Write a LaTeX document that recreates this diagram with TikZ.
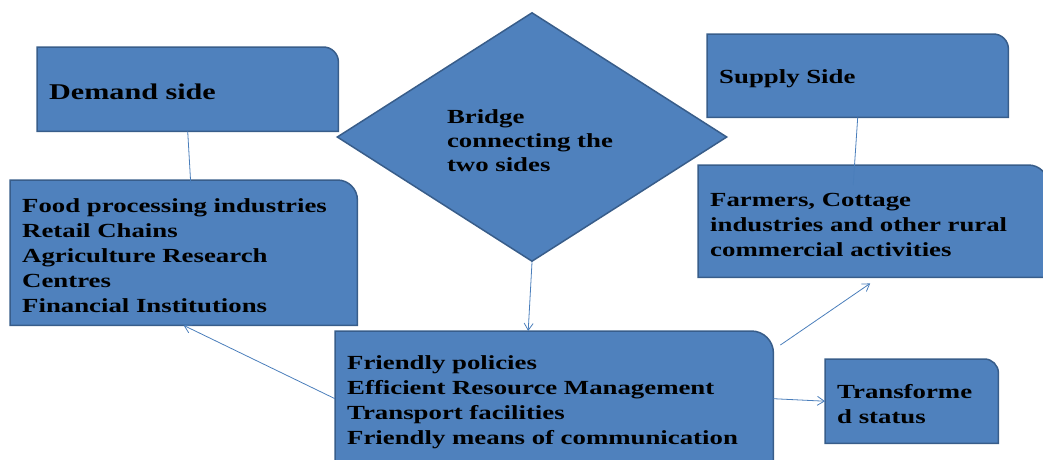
\documentclass[tikz,border=0pt]{standalone}
\usepackage{fontspec}
\setmainfont{Liberation Serif}[FakeStretch=1.34]
\usetikzlibrary{shapes.geometric,arrows.meta,backgrounds}

\definecolor{boxblue}{HTML}{4F81BD}
\definecolor{boxedge}{HTML}{385D8A}
\definecolor{linkblue}{HTML}{4A7EBB}

\begin{document}
\begin{tikzpicture} [
                x=1pt, y=-1pt,
                sidebox/.style={
                    rectangle,
                    anchor=north west,
                    inner xsep=12pt,
                    inner ysep=0pt,
                    align=left,
                    execute at begin node={\rule{0pt}{20.5pt}},
                    font=\bfseries\fontsize{20}{25}\selectfont
                },
                bridgenode/.style={
                    diamond,
                    fill=boxblue,
                    draw=boxedge,
                    line width=1.5pt,
                    minimum width=390pt,
                    minimum height=249pt,
                    inner sep=0pt,
                    text width=170pt,
                    align=left,
                    execute at begin node={\rule{0pt}{20.5pt}},
                    font=\bfseries\fontsize{20}{24}\selectfont
                },
                boxshape/.style={fill=boxblue, draw=boxedge, line width=1.5pt},
                link/.style={draw=linkblue, line width=0.8pt},
                linkarrow/.style={link, -{Straight Barb[length=7pt,width=9pt]}}
            ]

                \useasboundingbox (0,0) rectangle (1043,459);

                \node[sidebox, text width=277pt, minimum height=84pt,
                      font=\bfseries\fontsize{22.5}{27}\selectfont]     (demand)    at (37,47)      {Demand side};
                \node[sidebox, text width=323pt, minimum height=145pt]  (food)      at (10,180)     {Food processing industries\\Retail Chains\\Agriculture Research\\Centres\\Financial Institutions};
                \node[sidebox, text width=277pt, minimum height=83pt]   (supply)    at (707,34)     {Supply Side};
                \node[sidebox, text width=326pt, minimum height=112pt]  (farmer)    at (698,165)    {Farmers, Cottage\\industries and other rural\\commercial activities};
                \node[sidebox, text width=414pt, minimum height=135pt]  (policy)    at (335,331)    {Friendly policies\\Efficient Resource Management\\Transport facilities\\Friendly means of communication};
                \node[sidebox, text width=149pt, minimum height=84pt]   (status)    at (825,359)    {Transforme\\d status};

                \node[bridgenode]   (bridge)    at (532,137)    {Bridge\\connecting the\\two sides};

                % box outlines, only the top right corner is round
                \begin{scope}[on background layer]
                    \foreach \n/\r in {demand/15, food/20, supply/15, farmer/20, policy/22, status/14}
                        \draw[boxshape] (\n.south west) -- (\n.north west) -- ([xshift=-\r pt]\n.north east)
                            arc[start angle=90, end angle=0, radius=\r pt] -- (\n.south east) -- cycle;
                \end{scope}

                \draw[link]         (demand.south)  -- ([xshift=7pt,yshift=-3pt]food.north);
                \draw[link]         (supply.south)  -- ([xshift=-20pt,yshift=-20pt]farmer.north);
                \draw[linkarrow]    (bridge.south)  -- ([xshift=-26pt]policy.north);
                \draw[linkarrow]    (policy.west)   -- (food.south);
                \draw[linkarrow]    ([xshift=7pt,yshift=-14pt]policy.north east) -- ([xshift=-3pt,yshift=-6pt]farmer.south);
                \draw[linkarrow]    (policy.east)   -- (status.west);

            \end{tikzpicture}
\end{document}
